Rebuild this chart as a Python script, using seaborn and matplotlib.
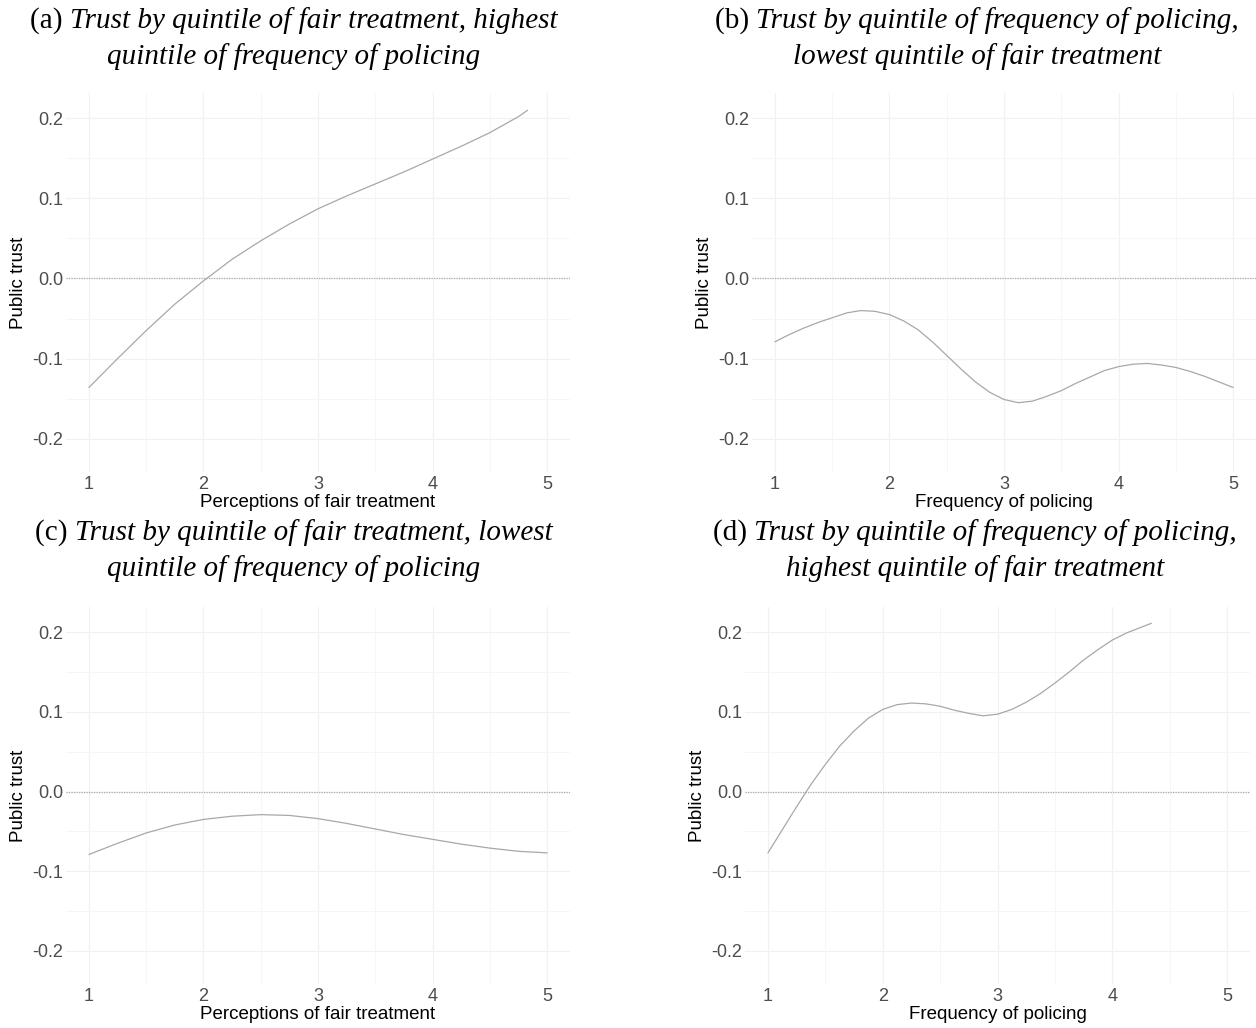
import matplotlib
matplotlib.use("Agg")
import matplotlib.pyplot as plt
import seaborn as sns
import pandas as pd

# ---------------- data ----------------
x_a = [1.0, 1.25, 1.5, 1.75, 2.0, 2.25, 2.5, 2.75, 3.0, 3.25, 3.5, 3.75, 4.0, 4.25, 4.5, 4.75, 4.83]
y_a = [-0.136, -0.100, -0.065, -0.032, -0.003, 0.024, 0.047, 0.068, 0.087, 0.103, 0.118, 0.133, 0.149, 0.165, 0.182, 0.202, 0.210]

x_b = [1.0, 1.125, 1.25, 1.375, 1.5, 1.625, 1.75, 1.875, 2.0, 2.125, 2.25, 2.375, 2.5, 2.625, 2.75, 2.875,
       3.0, 3.125, 3.25, 3.375, 3.5, 3.625, 3.75, 3.875, 4.0, 4.125, 4.25, 4.375, 4.5, 4.625, 4.75, 4.875, 5.0]
y_b = [-0.079, -0.070, -0.062, -0.055, -0.049, -0.043, -0.040, -0.041, -0.045, -0.053, -0.064, -0.079, -0.096,
       -0.113, -0.129, -0.142, -0.151, -0.155, -0.153, -0.147, -0.140, -0.131, -0.123, -0.115, -0.110, -0.107,
       -0.106, -0.108, -0.111, -0.116, -0.122, -0.129, -0.136]

x_c = [1.0, 1.25, 1.5, 1.75, 2.0, 2.25, 2.5, 2.75, 3.0, 3.25, 3.5, 3.75, 4.0, 4.25, 4.5, 4.75, 5.0]
y_c = [-0.079, -0.065, -0.052, -0.042, -0.035, -0.031, -0.029, -0.030, -0.034, -0.040, -0.047, -0.054, -0.060, -0.066, -0.071, -0.075, -0.077]

x_d = [1.0, 1.125, 1.25, 1.375, 1.5, 1.625, 1.75, 1.875, 2.0, 2.125, 2.25, 2.375, 2.5, 2.625, 2.75, 2.875,
       3.0, 3.125, 3.25, 3.375, 3.5, 3.625, 3.75, 3.875, 4.0, 4.125, 4.25, 4.34]
y_d = [-0.077, -0.048, -0.019, 0.009, 0.034, 0.057, 0.076, 0.092, 0.103, 0.109, 0.111, 0.110, 0.107, 0.102,
       0.098, 0.095, 0.097, 0.103, 0.112, 0.123, 0.136, 0.150, 0.165, 0.178, 0.190, 0.199, 0.206, 0.211]

panel_letters = ["(a) ", "(b) ", "(c) ", "(d) "]
title_line1 = ["Trust by quintile of fair treatment, highest",
               "Trust by quintile of frequency of policing,",
               "Trust by quintile of fair treatment, lowest",
               "Trust by quintile of frequency of policing,"]
title_line2 = ["quintile of frequency of policing",
               "lowest quintile of fair treatment",
               "quintile of frequency of policing",
               "highest quintile of fair treatment"]
x_labels = ["Perceptions of fair treatment", "Frequency of policing",
            "Perceptions of fair treatment", "Frequency of policing"]
y_label = "Public trust"
x_ticks = [1, 2, 3, 4, 5]
y_ticks = [-0.2, -0.1, 0.0, 0.1, 0.2]
y_tick_labels = ["-0.2", "-0.1", "0.0", "0.1", "0.2"]

# ---------------- style ----------------
sns.set_theme(style="white")
plt.rcParams['font.family'] = ['Liberation Sans', 'DejaVu Sans']

W, H = 1256, 1028
fig = plt.figure(figsize=(W / 100, H / 100), dpi=100)

# pixel boxes: left, right, top, bottom
boxes = [(66, 570, 93, 472), (752, 1256, 93, 472),
         (66, 570, 607, 984), (745, 1250, 607, 984)]
title_cx = [294, 977, 294, 975]
title_y1 = [21, 21, 533, 533]

datasets = [(x_a, y_a), (x_b, y_b), (x_c, y_c), (x_d, y_d)]

minor_x = [1.5, 2.5, 3.5, 4.5]
minor_y = [-0.15, -0.05, 0.05, 0.15]

for i, (xs, ys) in enumerate(datasets):
    l, r, t, b = boxes[i]
    ax = fig.add_axes([l / W, 1 - b / H, (r - l) / W, (b - t) / H])
    ax.set_facecolor("white")
    for s in ax.spines.values():
        s.set_visible(False)
    ax.set_xlim(0.8, 5.2)
    ax.set_ylim(-0.2415, 0.2315)
    # grid
    for gx in x_ticks:
        ax.axvline(gx, color="#f1f1f1", lw=0.9, zorder=0)
    for gy in y_ticks:
        ax.axhline(gy, color="#f1f1f1", lw=0.9, zorder=0)
    for gx in minor_x:
        ax.axvline(gx, color="#f6f6f6", lw=0.7, zorder=0)
    for gy in minor_y:
        ax.axhline(gy, color="#f6f6f6", lw=0.7, zorder=0)
    ax.axhline(0, color="#adadad", lw=0.9, ls=(0, (1, 1)), zorder=1)

    df = pd.DataFrame({"x": xs, "y": ys})
    sns.lineplot(data=df, x="x", y="y", ax=ax, color="#a8a8a8", lw=0.9,
                 sort=False, zorder=2)

    ax.set_xticks(x_ticks)
    ax.set_xticklabels([str(v) for v in x_ticks])
    ax.set_yticks(y_ticks)
    ax.set_yticklabels(y_tick_labels)
    ax.tick_params(axis="both", length=0, labelsize=13, labelcolor="#4d4d4d")
    ax.tick_params(axis="x", pad=3)
    ax.tick_params(axis="y", pad=2)
    ax.set_xlabel(x_labels[i], fontsize=13.5, color="black")
    ax.set_ylabel(y_label, fontsize=13.5, color="black")
    ax.xaxis.set_label_coords(0.5, -0.058)
    ax.yaxis.set_label_coords(-0.077, 0.5)

# titles (regular letter + italic text, serif)
fig.canvas.draw()
renderer = fig.canvas.get_renderer()
tfs = 21
for i in range(4):
    cx = title_cx[i]
    y1 = title_y1[i]
    t1 = fig.text(0, 0, panel_letters[i], fontsize=tfs, family="Liberation Serif",
                  ha="left", va="center", color="black")
    t2 = fig.text(0, 0, title_line1[i], fontsize=tfs, family="Liberation Serif",
                  style="italic", ha="left", va="center", color="black")
    w1 = t1.get_window_extent(renderer).width
    w2 = t2.get_window_extent(renderer).width
    x0 = cx - (w1 + w2) / 2
    t1.set_position((x0 / W, 1 - y1 / H))
    t2.set_position(((x0 + w1) / W, 1 - y1 / H))
    fig.text(cx / W, 1 - (y1 + 36) / H, title_line2[i], fontsize=tfs,
             family="Liberation Serif", style="italic", ha="center", va="center",
             color="black")

fig.savefig("out.png", dpi=100, facecolor="white")
